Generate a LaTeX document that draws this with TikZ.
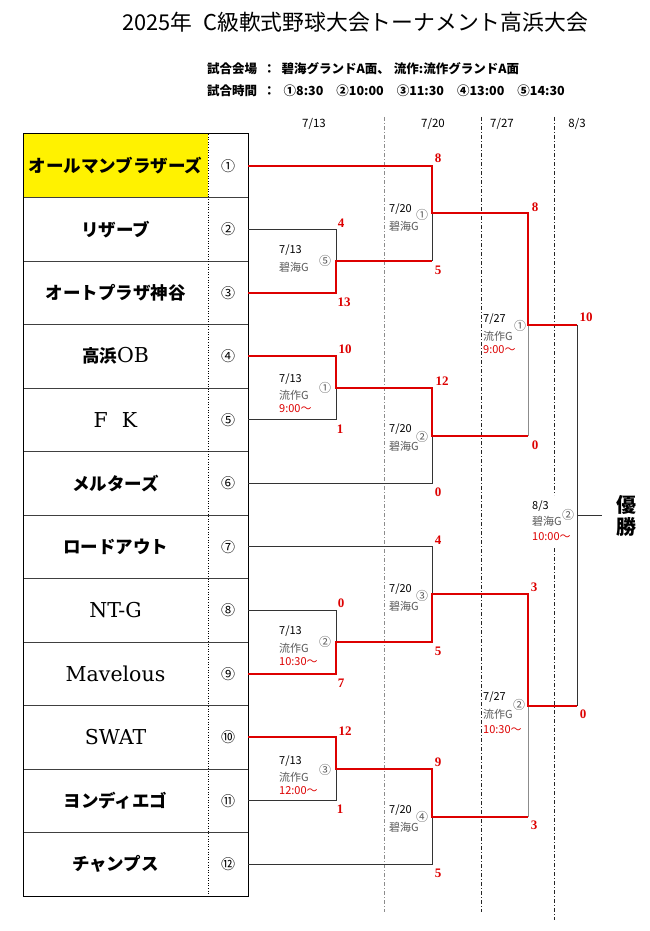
\documentclass[tikz,border=0pt]{standalone}
\usepackage{fontspec}
\setmainfont{Liberation Serif}
\newfontfamily\jp{Noto Sans CJK JP}
\newfontfamily\lat{DejaVu Serif}
\definecolor{wred}{HTML}{DD0000}
\definecolor{vgray}{HTML}{595959}
\definecolor{lgray}{HTML}{8C8C8C}
\begin{document}
\begin{tikzpicture}[x=1pt,y=-1pt,
  redline/.style={wred,line width=2pt},
  blkline/.style={black!80,line width=0.8pt},
  gryline/.style={lgray,line width=0.9pt},
  ddline/.style={line width=0.7pt,dash pattern=on 4pt off 2pt on 1pt off 2pt},
  score/.style={text=wred,font=\bfseries\fontsize{13}{13}\selectfont,inner sep=0pt},
  team/.style={font=\jp\bfseries\fontsize{17.5}{18}\selectfont,inner sep=0pt},
  lteam/.style={font=\lat\fontsize{20.5}{21}\selectfont,inner sep=0pt},
  numc/.style={font=\jp\fontsize{14}{14}\selectfont,inner sep=0pt},
  lbl/.style={font=\jp\fontsize{11}{11}\selectfont,inner sep=0pt,anchor=west},
  lcirc/.style={font=\jp\fontsize{12}{12}\selectfont,inner sep=0pt,text=vgray},
  hdr/.style={font=\jp\fontsize{11.5}{11.5}\selectfont,inner sep=0pt}
]
\useasboundingbox (0,0) rectangle (650,931);
\fill[white] (0,0) rectangle (650,931);

% title and header
\node[font=\jp\fontsize{21.8}{22}\selectfont,inner sep=0pt] (title) at (355,22) {2025年\enspace C級軟式野球大会トーナメント高浜大会};
\node[font=\jp\bfseries\fontsize{12.5}{12.5}\selectfont,inner sep=0pt,anchor=west] (venue) at (207,69) {試合会場\hspace{6pt}：\hspace{6pt}碧海グランドA面、\hspace{4pt}流作:流作グランドA面};
\node[font=\jp\bfseries\fontsize{12.5}{12.5}\selectfont,inner sep=0pt,anchor=west] (times) at (207,91) {試合時間\hspace{6pt}：\hspace{8pt}①8:30\hspace{13pt}②10:00\hspace{13pt}③11:30\hspace{13pt}④13:00\hspace{13pt}⑤14:30};

% column dates
\node[hdr] (d1) at (314,124) {7/13};
\node[hdr] (d2) at (433,124) {7/20};
\node[hdr] (d3) at (502,124) {7/27};
\node[hdr] (d4) at (577,124) {8/3};

% round separators
\draw[ddline,lgray] (384,117) -- (384,912);
\draw[ddline,black!85] (481,117) -- (481,912);
\draw[ddline,black!85] (554,117) -- (554,495);
\draw[ddline,black!85] (554,548) -- (554,920);

% table
\fill[yellow] (23,134) rectangle (208,197.5);
\foreach \k in {1,...,11}{
  \draw[black!75,line width=0.8pt] (23,134+63.5*\k) -- (248,134+63.5*\k);
}
\draw[dotted,line width=0.6pt] (208,134) -- (208,896);
\draw[black,line width=1pt] (23,134) rectangle (248,896);

% team names
\node[team] (t1) at (115.5,165.75) {オールマンブラザーズ};
\node[team] (t2) at (115.5,229.25) {リザーブ};
\node[team] (t3) at (115.5,292.75) {オートプラザ神谷};
\node[team] (t4) at (115.5,356.25) {高浜{\lat\fontsize{20.5}{21}\selectfont\mdseries OB}};
\node[lteam] (t5) at (115.5,419.75) {F\hspace{14pt}K};
\node[team] (t6) at (115.5,483.25) {メルターズ};
\node[team] (t7) at (115.5,546.75) {ロードアウト};
\node[lteam] (t8) at (115.5,610.25) {NT-G};
\node[lteam] (t9) at (115.5,673.75) {Mavelous};
\node[lteam] (t10) at (115.5,737.25) {SWAT};
\node[team] (t11) at (115.5,800.75) {ヨンディエゴ};
\node[team] (t12) at (115.5,864.25) {チャンプス};

% numbers
\foreach \i/\y/\c in {1/165.75/①,2/229.25/②,3/292.75/③,4/356.25/④,5/419.75/⑤,6/483.25/⑥,7/546.75/⑦,8/610.25/⑧,9/673.75/⑨,10/737.25/⑩,11/800.75/⑪,12/864.25/⑫}{
  \node[numc] (n\i) at (228,\y) {\c};
  \coordinate (e\i) at (248,\y);
}

% round 1 junction coordinates (x=336)
\coordinate (a2) at (336,229.25);
\coordinate (a3) at (336,292.75);
\coordinate (a4) at (336,356.25);
\coordinate (a5) at (336,419.75);
\coordinate (a8) at (336,610.25);
\coordinate (a9) at (336,673.75);
\coordinate (a10) at (336,737.25);
\coordinate (a11) at (336,800.75);
\coordinate (am5) at (336,261);
\coordinate (am1) at (336,388);
\coordinate (am2) at (336,642);
\coordinate (am3) at (336,769);

% round 2 coordinates (x=432)
\coordinate (b1) at (432,165.75);
\coordinate (bm5) at (432,261);
\coordinate (bm1) at (432,388);
\coordinate (b6) at (432,483.25);
\coordinate (b7) at (432,546.75);
\coordinate (bm2) at (432,642);
\coordinate (bm3) at (432,769);
\coordinate (b12) at (432,864.25);
\coordinate (bo1) at (432,213.4);
\coordinate (bo2) at (432,435.6);
\coordinate (bo3) at (432,594.4);
\coordinate (bo4) at (432,816.6);

% semis (x=528)
\coordinate (c1) at (528,213.4);
\coordinate (c2) at (528,435.6);
\coordinate (c3) at (528,594.4);
\coordinate (c4) at (528,816.6);
\coordinate (co1) at (528,324.5);
\coordinate (co2) at (528,705.5);

% final (x=577)
\coordinate (f1) at (577,324.5);
\coordinate (f2) at (577,705.5);
\coordinate (fo) at (577,515);
\coordinate (win) at (602,515);

% black (losing) lines
\draw[blkline] (e2) -- (a2) -- (am5);
\draw[blkline] (am1) -- (a5) -- (e5);
\draw[blkline] (bo1) -- (bm5);
\draw[blkline] (bo2) -- (b6) -- (e6);
\draw[gryline] (co1) -- (c2);
\draw[blkline] (e7) -- (b7) -- (bo3);
\draw[blkline] (e8) -- (a8) -- (am2);
\draw[blkline] (am3) -- (a11) -- (e11);
\draw[blkline] (bo4) -- (b12) -- (e12);
\draw[gryline] (co2) -- (c4);
\draw[blkline] (f1) -- (f2);
\draw[blkline] (fo) -- (win);

% red (winning) lines
\draw[redline] (e1) -- (b1) -- (bo1) -- (c1) -- (co1) -- (f1);
\draw[redline] (e3) -- (a3) -- (am5) -- (bm5);
\draw[redline] (e4) -- (a4) -- (am1) -- (bm1) -- (bo2) -- (c2);
\draw[redline] (e9) -- (a9) -- (am2) -- (bm2) -- (bo3) -- (c3) -- (co2) -- (f2);
\draw[redline] (e10) -- (a10) -- (am3) -- (bm3) -- (bo4) -- (c4);

% scores
\node[score] (s1) at (438,158) {8};
\node[score] (s2) at (341,223) {4};
\node[score] (s3) at (438,270) {5};
\node[score] (s4) at (344,302) {13};
\node[score] (s5) at (535,207) {8};
\node[score] (s6) at (586,317) {10};
\node[score] (s7) at (345,349) {10};
\node[score] (s8) at (442,381) {12};
\node[score] (s9) at (340,429) {1};
\node[score] (s10) at (438,492) {0};
\node[score] (s11) at (535,445) {0};
\node[score] (s12) at (438,540) {4};
\node[score] (s13) at (341,603) {0};
\node[score] (s14) at (438,651) {5};
\node[score] (s15) at (341,683) {7};
\node[score] (s16) at (534,587) {3};
\node[score] (s17) at (583,714) {0};
\node[score] (s18) at (534,825) {3};
\node[score] (s19) at (345,731) {12};
\node[score] (s20) at (438,762) {9};
\node[score] (s21) at (340,809) {1};
\node[score] (s22) at (438,873) {5};

% match labels round 1
\node[lbl] (m5d) at (279,250.5) {7/13};
\node[lbl,text=vgray] (m5v) at (279,267.5) {碧海G};
\node[lcirc] (m5c) at (325,261) {⑤};

\node[lbl] (m1d) at (279,379) {7/13};
\node[lbl,text=vgray] (m1v) at (279,395) {流作G};
\node[lbl,text=wred] (m1t) at (279,408.5) {9:00～};
\node[lcirc] (m1c) at (325,388) {①};

\node[lbl] (m2d) at (279,631) {7/13};
\node[lbl,text=vgray] (m2v) at (279,648) {流作G};
\node[lbl,text=wred] (m2t) at (279,661.5) {10:30～};
\node[lcirc] (m2c) at (325,641.5) {②};

\node[lbl] (m3d) at (279,761) {7/13};
\node[lbl,text=vgray] (m3v) at (279,777) {流作G};
\node[lbl,text=wred] (m3t) at (279,790.5) {12:00～};
\node[lcirc] (m3c) at (325,769.5) {③};

% round 2 labels
\node[lbl] (q1d) at (389,209) {7/20};
\node[lbl,text=vgray] (q1v) at (389,226) {碧海G};
\node[lcirc] (q1c) at (422,214.5) {①};

\node[lbl] (q2d) at (389,429) {7/20};
\node[lbl,text=vgray] (q2v) at (389,446) {碧海G};
\node[lcirc] (q2c) at (422,437) {②};

\node[lbl] (q3d) at (389,589.5) {7/20};
\node[lbl,text=vgray] (q3v) at (389,606) {碧海G};
\node[lcirc] (q3c) at (422,596) {③};

\node[lbl] (q4d) at (389,810.5) {7/20};
\node[lbl,text=vgray] (q4v) at (389,827) {碧海G};
\node[lcirc] (q4c) at (422,817) {④};

% semis labels
\node[lbl] (p1d) at (483,319) {7/27};
\node[lbl,text=vgray] (p1v) at (483,336) {流作G};
\node[lbl,text=wred] (p1t) at (483,350) {9:00～};
\node[lcirc] (p1c) at (520,326) {①};

\node[lbl] (p2d) at (483,697.5) {7/27};
\node[lbl,text=vgray] (p2v) at (483,714) {流作G};
\node[lbl,text=wred] (p2t) at (483,729.5) {10:30～};
\node[lcirc] (p2c) at (519,705) {②};

% final label
\node[lbl] (fd) at (532,506) {8/3};
\node[lbl,text=vgray] (fv) at (532,521.5) {碧海G};
\node[lbl,text=wred] (ft) at (532,537) {10:00～};
\node[lcirc] (fc) at (568,515) {②};

% champion
\node[font=\jp\bfseries\fontsize{20}{20}\selectfont,inner sep=0pt,align=center] (champ) at (626,516) {優\\[2pt]勝};
\end{tikzpicture}
\end{document}
